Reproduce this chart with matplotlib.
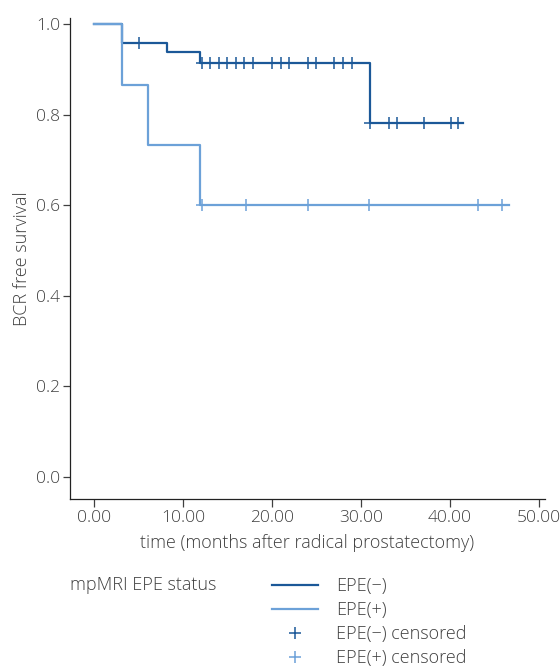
import numpy as np
import matplotlib
matplotlib.use('Agg')
import matplotlib.pyplot as plt
from matplotlib.lines import Line2D

plt.rcParams['font.family'] = ['Open Sans', 'DejaVu Sans']
plt.rcParams['font.weight'] = 'light'
plt.rcParams['axes.labelweight'] = 'light'

# EPE(-) の生存曲線 (step, post)
neg_t = [0.0, 3.15, 8.2, 11.9, 31.0, 41.5]
neg_s = [1.0, 0.958, 0.937, 0.914, 0.782, 0.782]
neg_cens = [5.1, 12.1, 13.0, 14.0, 15.0, 15.9, 16.9, 17.9, 20.0, 21.0, 21.9,
            24.1, 25.0, 27.0, 28.0, 29.0, 31.0, 33.1, 34.1, 37.1, 40.1, 40.9]

# EPE(+) の生存曲線
pos_t = [0.0, 3.15, 6.1, 11.9, 46.6]
pos_s = [1.0, 0.865, 0.733, 0.600, 0.600]
pos_cens = [12.1, 17.1, 24.1, 30.9, 43.1, 45.9]

xticks = [0, 10, 20, 30, 40, 50]
yticks = [0.0, 0.2, 0.4, 0.6, 0.8, 1.0]

dark = '#1b5898'
light = '#6ca1d8'
txt = '#404040'
fs = 13


def level_at(times, surv, c):
    # 打ち切り時点での生存率 (表から引く)
    idx = np.searchsorted(times, c, side='right') - 1
    return np.asarray(surv)[idx]


fig = plt.figure(figsize=(5.6, 6.68), dpi=100)
ax = fig.add_axes([0.125, 0.253, 0.848, 0.720])

ax.step(neg_t, neg_s, where='post', color=dark, lw=1.6)
ax.step(pos_t, pos_s, where='post', color=light, lw=1.6)
ax.plot(neg_cens, level_at(neg_t, neg_s, neg_cens), '+', color=dark,
        ms=8.5, mew=1.1, ls='none')
ax.plot(pos_cens, level_at(pos_t, pos_s, pos_cens), '+', color=light,
        ms=8.5, mew=1.1, ls='none')

ax.set_xlim(-2.7, 50.67)
ax.set_ylim(-0.0486, 1.013)
ax.set_xticks(xticks)
ax.set_xticklabels(['%.2f' % v for v in xticks])
ax.set_yticks(yticks)
ax.set_yticklabels(['%.1f' % v for v in yticks])
for s in ['top', 'right']:
    ax.spines[s].set_visible(False)
for s in ['left', 'bottom']:
    ax.spines[s].set_color('#222222')
    ax.spines[s].set_linewidth(0.9)
ax.tick_params(labelsize=12.5, colors=txt, length=6, width=0.9, pad=2)
ax.tick_params(axis='y', length=5)
ax.set_xlabel('time (months after radical prostatectomy)', fontsize=fs,
              color=txt, labelpad=6, fontweight='light')
ax.set_ylabel('BCR free survival', fontsize=fs, color=txt, labelpad=4,
              fontweight='light')

# 凡例
fig.text(70 / 560, 1 - 585 / 668, 'mpMRI EPE status', fontsize=fs,
         color=txt, va='center', ha='left')
handles = [Line2D([], [], color=dark, lw=1.6),
           Line2D([], [], color=light, lw=1.6),
           Line2D([], [], color=dark, marker='+', ls='none', ms=8.5, mew=1.1),
           Line2D([], [], color=light, marker='+', ls='none', ms=8.5, mew=1.1)]
labels = ['EPE(\u2212)', 'EPE(+)', 'EPE(\u2212) censored', 'EPE(+) censored']
leg = fig.legend(handles, labels, loc='upper left',
                 bbox_to_anchor=(272 / 560, 1 - 577 / 668), frameon=False,
                 fontsize=fs, handlelength=2.55, handletextpad=1.0,
                 labelspacing=0.33, borderpad=0, borderaxespad=0)
for t in leg.get_texts():
    t.set_color(txt)

fig.savefig('out.png', dpi=100)
